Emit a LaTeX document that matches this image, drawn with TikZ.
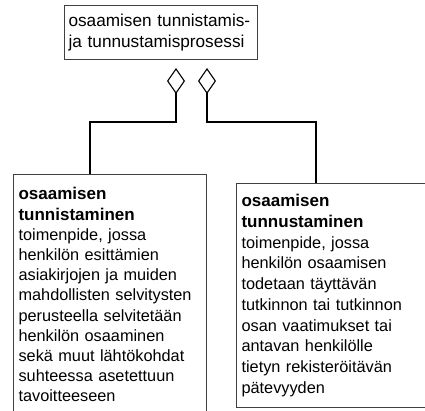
\documentclass[tikz,border=0pt]{standalone}
\usepackage{fontspec}
\setmainfont{Liberation Sans}
\usetikzlibrary{arrows.meta}
\begin{document}
\begin{tikzpicture}[x=1pt,y=-1pt,
  box/.style={draw=black!75,line width=1.1pt,anchor=north west,align=left,
    inner xsep=5pt,inner ysep=11pt,font=\fontsize{16.3}{20.2}\selectfont},
  link/.style={line width=1.1pt,-{Diamond[open,length=26pt,width=18pt]}}]
  \useasboundingbox (0,0) rectangle (425,410);
  \clip (0,0) rectangle (425,410);
  \node [box,text width=185pt,inner xsep=4pt,inner ysep=0pt,minimum height=54pt,
    font=\fontsize{17.2}{21}\selectfont] (proc) at (64,5)
    {osaamisen tunnistamis-\\ja tunnustamisprosessi};
  \node [box,text width=183pt,inner ysep=13pt,text depth=250pt] (tunnist) at (13,174)
    {{\fontsize{17}{20.2}\selectfont\bfseries osaamisen\\tunnistaminen}\\
     toimenpide, jossa\\henkilön esittämien\\
     asiakirjojen ja muiden\\mahdollisten selvitysten\\perusteella selvitetään\\
     henkilön osaaminen\\sekä muut lähtökohdat\\suhteessa asetettuun\\tavoitteeseen};
  \node [box,text width=182pt,font=\fontsize{16.3}{20.7}\selectfont] (tunnust) at (236,183)
    {{\fontsize{17}{20.7}\selectfont\bfseries osaamisen\\tunnustaminen}\\
     toimenpide, jossa\\henkilön osaamisen\\
     todetaan täyttävän\\tutkinnon tai tutkinnon\\osan vaatimukset tai\\
     antavan henkilölle\\tietyn rekisteröitävän\\pätevyyden};
  \coordinate (agg1) at (176,68);
  \coordinate (agg2) at (207,68);
  \coordinate (bend1) at (176,122);
  \coordinate (bend2) at (207,122);
  \draw [link] (tunnist.north west) ++(77,0) |- (bend1) -- (agg1);
  \draw [link] (tunnust.north west) ++(80,0) |- (bend2) -- (agg2);
\end{tikzpicture}
\end{document}
